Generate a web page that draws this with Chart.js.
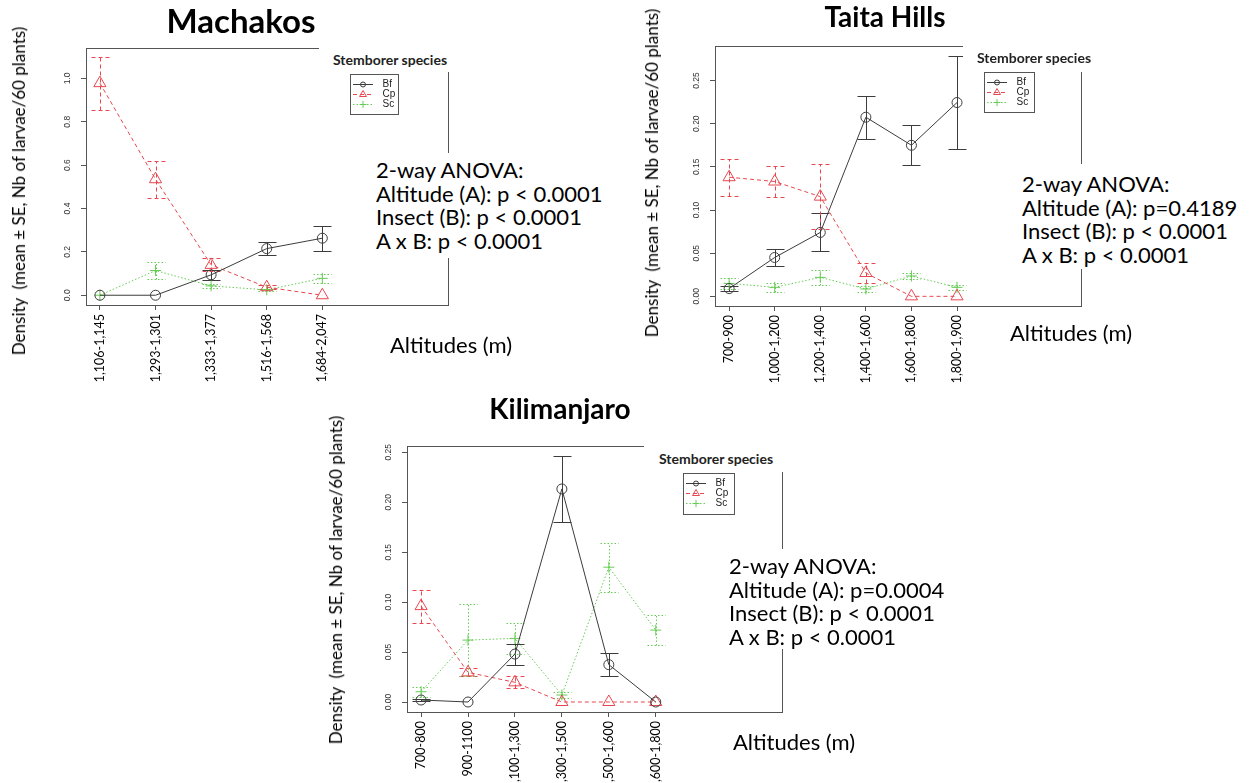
<!DOCTYPE html>
<html>
<head>
<meta charset="utf-8">
<title>Stemborer density by altitude</title>
<script src="https://cdn.jsdelivr.net/npm/chart.js@4.4.1/dist/chart.umd.min.js"></script>
<style>
  body { margin: 0; width: 1251px; height: 783px; overflow: hidden; position: relative; background: #fff; font-family: Lato, "Open Sans", sans-serif; color: #000; }
  canvas { position: absolute; }
  .txt { position: absolute; white-space: nowrap; }
  .title { font-weight: bold; text-align: center; width: 300px; }
  .ylab { font-size: 17px; line-height: 20px; transform: translate(-50%, -50%) rotate(-90deg); }
  .xlab { font-size: 22px; line-height: 26px; }
  .anova { font-size: 22px; line-height: 23.7px; background: #fff; }
  .species { font-size: 14px; font-weight: bold; line-height: 16px; background: #fff; color: #222; }
</style>
</head>
<body>
<canvas id="machakos" width="625" height="400" style="left:0;top:0"></canvas>
<canvas id="taita" width="621" height="400" style="left:630px;top:0"></canvas>
<canvas id="kili" width="520" height="383" style="left:320px;top:400px"></canvas>

<!-- Machakos -->
<div class="txt title" style="left:91px;top:0;font-size:33px;line-height:40px">Machakos</div>
<div class="txt ylab" style="left:19px;top:191px">Density&nbsp; (mean ± SE, Nb of larvae/60 plants)</div>
<div class="txt species" style="left:319px;top:38px;width:121px;height:20px;padding:14px 0 0 14px">Stemborer species</div>
<div class="txt anova" style="left:370px;top:153px;padding:5px 6px 5px 6px">2-way ANOVA:<br>Altitude (A): p &lt; 0.0001<br>Insect (B): p &lt; 0.0001<br>A x B: p &lt; 0.0001</div>
<div class="txt xlab" style="left:390px;top:332px">Altitudes (m)</div>

<!-- Taita Hills -->
<div class="txt title" style="left:735px;top:0;font-size:28px;line-height:32px">Taita Hills</div>
<div class="txt ylab" style="left:652px;top:173px">Density&nbsp; (mean ± SE, Nb of larvae/60 plants)</div>
<div class="txt species" style="left:963px;top:36px;width:108px;height:22px;padding:14px 0 0 14px">Stemborer species</div>
<div class="txt anova" style="left:1016px;top:164px;padding:8px 6px 2px 6px">2-way ANOVA:<br>Altitude (A): p=0.4189<br>Insect (B): p &lt; 0.0001<br>A x B: p &lt; 0.0001</div>
<div class="txt xlab" style="left:1010px;top:320px">Altitudes (m)</div>

<!-- Kilimanjaro -->
<div class="txt title" style="left:410px;top:392px;font-size:28px;line-height:32px">Kilimanjaro</div>
<div class="txt ylab" style="left:336px;top:580px">Density&nbsp; (mean ± SE, Nb of larvae/60 plants)</div>
<div class="txt species" style="left:644px;top:437px;width:127px;height:21px;padding:14px 0 0 15px">Stemborer species</div>
<div class="txt anova" style="left:723px;top:549px;padding:5px 6px 0 6px">2-way ANOVA:<br>Altitude (A): p=0.0004<br>Insect (B): p &lt; 0.0001<br>A x B: p &lt; 0.0001</div>
<div class="txt xlab" style="left:733px;top:729px">Altitudes (m)</div>

<script>
// Machakos
const machakosAlt = ['1,106-1,145', '1,293-1,301', '1,333-1,377', '1,516-1,568', '1,684-2,047'];
const machakosBf = [0, 0, 0.094, 0.215, 0.263];
const machakosBfSe = [0, 0, 0.023, 0.030, 0.057];
const machakosCp = [0.978, 0.535, 0.14, 0.037, 0];
const machakosCpSe = [0.122, 0.085, 0.03, 0.01, 0];
const machakosSc = [0, 0.114, 0.043, 0.025, 0.078];
const machakosScSe = [0, 0.039, 0.01, 0.005, 0.021];
const machakosYTicks = ['0.0', '0.2', '0.4', '0.6', '0.8', '1.0'];

// Taita Hills
const taitaAlt = ['700-900', '1,000-1,200', '1,200-1,400', '1,400-1,600', '1,600-1,800', '1,800-1,900'];
const taitaBf = [0.009, 0.045, 0.074, 0.2075, 0.175, 0.2245];
const taitaBfSe = [0.003, 0.0097, 0.022, 0.025, 0.023, 0.054];
const taitaCp = [0.138, 0.133, 0.1155, 0.027, 0, 0];
const taitaCpSe = [0.0215, 0.018, 0.038, 0.012, 0, 0];
const taitaSc = [0.015, 0.0104, 0.022, 0.0085, 0.0236, 0.0104];
const taitaScSe = [0.006, 0.0055, 0.009, 0.003, 0.004, 0.003];
const taitaYTicks = ['0.00', '0.05', '0.10', '0.15', '0.20', '0.25'];

// Kilimanjaro
const kiliAlt = ['700-800', '900-1100', '1,100-1,300', '1,300-1,500', '1,500-1,600', '1,600-1,800'];
const kiliBf = [0.002, 0, 0.048, 0.2133, 0.0374, 0];
const kiliBfSe = [0.001, 0, 0.0105, 0.033, 0.0113, 0];
const kiliCp = [0.096, 0.0297, 0.0197, 0, 0, 0];
const kiliCpSe = [0.0164, 0.004, 0.006, 0, 0, 0];
const kiliSc = [0.0103, 0.062, 0.0637, 0.007, 0.135, 0.072];
const kiliScSe = [0.005, 0.036, 0.0155, 0.003, 0.0245, 0.015];
const kiliYTicks = ['0.00', '0.05', '0.10', '0.15', '0.20', '0.25'];

const BF_COL = '#3c3c3c', CP_COL = '#e8474f', SC_COL = '#66cc55';
const FRAME = '#555';

// error bars, box, rotated y labels and the small R-style legend
const rBase = {
  id: 'rBase',
  beforeDatasetsDraw(chart) {
    const { ctx, scales: { x, y } } = chart;
    chart.data.datasets.forEach(ds => {
      ctx.save();
      ctx.strokeStyle = ds.borderColor;
      ctx.lineWidth = 1;
      ctx.setLineDash(ds.borderDash || []);
      ds.se.forEach((e, i) => {
        if (!e) return;
        const px = Math.round(x.getPixelForValue(i + 1)) + 0.5;
        const hi = Math.round(y.getPixelForValue(ds.data[i].y + e)) + 0.5;
        const lo = Math.round(y.getPixelForValue(ds.data[i].y - e)) + 0.5;
        ctx.beginPath();
        ctx.moveTo(px, lo); ctx.lineTo(px, hi);
        ctx.moveTo(px - 9, hi); ctx.lineTo(px + 9, hi);
        ctx.moveTo(px - 9, lo); ctx.lineTo(px + 9, lo);
        ctx.stroke();
      });
      ctx.restore();
    });
  },
  afterDraw(chart, args, opts) {
    const { ctx, chartArea: a, scales: { y } } = chart;
    ctx.save();
    ctx.strokeStyle = FRAME;
    ctx.lineWidth = 1;
    ctx.beginPath();
    ctx.moveTo(Math.round(a.left) + 0.5, Math.round(a.top) + 0.5);
    ctx.lineTo(Math.round(a.right) + 0.5, Math.round(a.top) + 0.5);
    ctx.lineTo(Math.round(a.right) + 0.5, Math.round(a.bottom) + 0.5);
    ctx.stroke();

    ctx.fillStyle = '#333';
    ctx.font = '8.5px "Liberation Sans", Arial, sans-serif';
    ctx.textAlign = 'center';
    ctx.textBaseline = 'middle';
    opts.yLabels.forEach(t => {
      ctx.save();
      ctx.translate(a.left - 18.5, y.getPixelForValue(parseFloat(t)));
      ctx.rotate(-Math.PI / 2);
      ctx.fillText(t, 0, 0);
      ctx.restore();
    });

    const L = opts.legend;
    ctx.strokeStyle = FRAME;
    ctx.strokeRect(L.x + 0.5, L.y + 0.5, L.w, L.h);
    chart.data.datasets.forEach((ds, i) => {
      const ly = L.y + 10.5 + i * 10;
      ctx.strokeStyle = ds.borderColor;
      ctx.setLineDash(ds.borderDash || []);
      ctx.beginPath();
      ctx.moveTo(L.x + 3, ly); ctx.lineTo(L.x + 23, ly);
      ctx.stroke();
      ctx.setLineDash([]);
      ctx.fillStyle = 'rgba(0,0,0,0)';
      if (Chart.helpers && Chart.helpers.drawPoint) {
        Chart.helpers.drawPoint(ctx, { pointStyle: ds.pointStyle, radius: ds.legendRadius, borderWidth: 1, rotation: 0 }, L.x + 13, ly);
      }
      ctx.fillStyle = '#222';
      ctx.textAlign = 'left';
      ctx.font = '10px "Liberation Sans", Arial, sans-serif';
      ctx.fillText(ds.label, L.x + 32.5, ly);
    });
    ctx.restore();
  }
};

function series(label, values, se, color, dash, style, radius, legendRadius) {
  return {
    label, se, legendRadius,
    data: values.map((v, i) => ({ x: i + 1, y: v })),
    borderColor: color, borderDash: dash, borderWidth: 1, tension: 0, fill: false,
    pointStyle: style, pointRadius: radius, pointBorderColor: color,
    pointBackgroundColor: 'rgba(0,0,0,0)', pointBorderWidth: 1
  };
}

function panel(id, box, xr, yr, alts, yTicks, sets, legend) {
  const cv = document.getElementById(id);
  new Chart(cv, {
    type: 'line',
    data: { datasets: sets },
    plugins: [rBase],
    options: {
      responsive: false,
      animation: false,
      events: [],
      layout: { autoPadding: false, padding: { left: 0, top: box.top, right: cv.width - box.right, bottom: 0 } },
      plugins: {
        legend: { display: false },
        tooltip: { enabled: false },
        rBase: { yLabels: yTicks, legend }
      },
      scales: {
        x: {
          type: 'linear', min: xr[0], max: xr[1],
          afterBuildTicks: s => { s.ticks = alts.map((_, i) => ({ value: i + 1 })); },
          afterFit: s => { s.height = cv.height - box.bottom; },
          grid: { display: true, drawOnChartArea: false, drawTicks: true, tickLength: 5, color: FRAME },
          border: { display: true, color: FRAME, width: 1 },
          ticks: {
            autoSkip: false, minRotation: 90, maxRotation: 90, padding: 4, color: '#000',
            font: { family: 'Lato', size: 12.5 },
            callback: v => alts[Math.round(v) - 1]
          }
        },
        y: {
          type: 'linear', min: yr[0], max: yr[1],
          afterBuildTicks: s => { s.ticks = yTicks.map(t => ({ value: parseFloat(t) })); },
          afterFit: s => { s.width = box.left; },
          grid: { display: true, drawOnChartArea: false, drawTicks: true, tickLength: 5, color: FRAME },
          border: { display: true, color: FRAME, width: 1 },
          ticks: { display: false }
        }
      }
    }
  });
}

function trio(bf, bfSe, cp, cpSe, sc, scSe) {
  return [
    series('Bf', bf, bfSe, BF_COL, [], 'circle', 5, 2.5),
    series('Cp', cp, cpSe, CP_COL, [4, 3], 'triangle', 7, 4),
    series('Sc', sc, scSe, SC_COL, [1.5, 2], 'cross', 5.5, 3.5)
  ];
}

panel('machakos', { left: 86, top: 48, right: 448, bottom: 305 }, [0.75, 7.26], [-0.045, 1.14],
  machakosAlt, machakosYTicks,
  trio(machakosBf, machakosBfSe, machakosCp, machakosCpSe, machakosSc, machakosScSe),
  { x: 350, y: 74, w: 48, h: 40 });

panel('taita', { left: 85, top: 46, right: 451, bottom: 306 }, [0.69, 8.72], [-0.0112, 0.290],
  taitaAlt, taitaYTicks,
  trio(taitaBf, taitaBfSe, taitaCp, taitaCpSe, taitaSc, taitaScSe),
  { x: 354, y: 72, w: 50, h: 40 });

panel('kili', { left: 87, top: 46, right: 462, bottom: 312 }, [0.70, 8.69], [-0.010, 0.2563],
  kiliAlt, kiliYTicks,
  trio(kiliBf, kiliBfSe, kiliCp, kiliCpSe, kiliSc, kiliScSe),
  { x: 363, y: 73, w: 51, h: 41 });
</script>
</body>
</html>
